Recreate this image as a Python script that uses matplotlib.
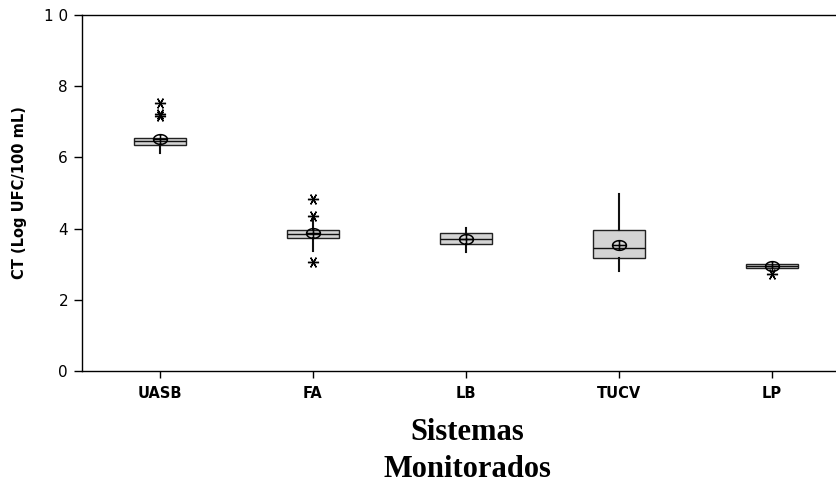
import matplotlib
matplotlib.use("Agg")
import numpy as np
import matplotlib.pyplot as plt
from matplotlib.path import Path
from matplotlib.ticker import FixedLocator, FuncFormatter

# Summary statistics for each monitored system (log UFC/100 mL)
sistemas = ["UASB", "FA", "LB", "TUCV", "LP"]
q1 = [6.35, 3.75, 3.56, 3.18, 2.89]
mediana = [6.45, 3.85, 3.70, 3.45, 2.95]
q3 = [6.55, 3.96, 3.87, 3.96, 3.00]
whis_lo = [6.12, 3.37, 3.35, 2.81, 2.89]
whis_hi = [6.55, 4.33, 4.01, 4.97, 3.00]
media = [6.52, 3.87, 3.70, 3.54, 2.96]
outliers = [
    [7.53, 7.23, 7.15],
    [4.83, 4.34, 3.06],
    [],
    [],
    [2.73],
]
y_ticks = [0, 2, 4, 6, 8, 10]

stats = []
for i, nome in enumerate(sistemas):
    stats.append(dict(label=nome, q1=q1[i], med=mediana[i], q3=q3[i],
                      whislo=whis_lo[i], whishi=whis_hi[i],
                      mean=media[i], fliers=outliers[i]))

# circled-cross marker (slightly flattened ellipse with a cross inside)
t = np.linspace(0, 2 * np.pi, 41)
ell = np.column_stack([np.cos(t), 0.7 * np.sin(t)])
verts = list(ell) + [(-1, 0), (1, 0), (0, -0.7), (0, 0.7)]
codes = [Path.MOVETO] + [Path.LINETO] * (len(ell) - 1) + \
        [Path.MOVETO, Path.LINETO, Path.MOVETO, Path.LINETO]
mean_marker = Path(verts, codes)

fig = plt.figure(figsize=(8.36, 4.87), dpi=100)
ax = fig.add_axes([82 / 836, 116 / 487, 1 - 82 / 836, 356 / 487])

pos = list(range(len(sistemas)))
ax.bxp(stats, positions=pos, widths=0.34, patch_artist=True,
       showcaps=False, showmeans=False, showfliers=True,
       boxprops=dict(facecolor="#d4d4d4", edgecolor="#222222", linewidth=1.0),
       medianprops=dict(color="#111111", linewidth=1.0),
       whiskerprops=dict(color="#111111", linewidth=1.5),
       flierprops=dict(marker=(6, 2, 90), markersize=8, markeredgecolor="black",
                       markeredgewidth=1.0, linestyle="none"))

# mean markers
ax.plot(pos, media, linestyle="none", marker=mean_marker, markersize=10,
        markerfacecolor="none", markeredgecolor="black", markeredgewidth=1.1, zorder=5)

ax.set_xlim(-0.51, 4.42)
ax.set_ylim(0, 10)
ax.set_xticks(pos)
ax.set_xticklabels(sistemas, fontsize=10.5, fontweight="bold")
ax.yaxis.set_major_locator(FixedLocator(y_ticks))
ax.yaxis.set_major_formatter(FuncFormatter(lambda v, p: " ".join(str(int(v)))))
ax.tick_params(axis="y", labelsize=11, length=6, width=1, direction="out", pad=4)
ax.tick_params(axis="x", length=5, width=1, direction="out", pad=6)
ax.spines["right"].set_visible(False)
for s in ["left", "top", "bottom"]:
    ax.spines[s].set_linewidth(1.0)
    ax.spines[s].set_color("black")

ax.set_ylabel("CT (Log UFC/100 mL)", fontsize=10.5, fontweight="bold", labelpad=12)

fig.text(467 / 836, 1 - 451 / 487, "Sistemas\nMonitorados", ha="center", va="center",
         fontsize=22, fontweight="bold", family="Liberation Serif", linespacing=1.38)

fig.savefig("out.png", dpi=100)
